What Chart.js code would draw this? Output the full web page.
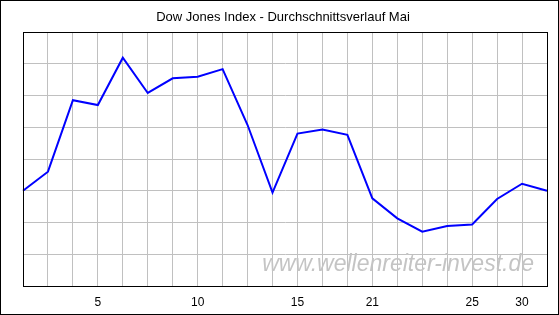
<!DOCTYPE html>
<html>
<head>
<meta charset="utf-8">
<script src="https://cdn.jsdelivr.net/npm/chart.js@4"></script>
<style>
    html, body { margin: 0; padding: 0; background: #fff; }
    canvas { display: block; }
</style>
</head>
<body>
<canvas id="dow-may-chart" width="559" height="315"></canvas>
<script>
// trading days of May; only some carry a label
const days = ["", "", "", "5", "", "", "", "10", "", "", "", "15", "", "", "21", "", "", "", "25", "", "30", ""];
const avgCourse = [3.0, 3.6, 5.85, 5.7, 7.19, 6.08, 6.54, 6.59, 6.83, 5.07, 2.94,
    4.8, 4.93, 4.76, 2.76, 2.13, 1.71, 1.89, 1.94, 2.74, 3.22, 3.0];
const yMin = 0;
const yMax = 8;
const chartTitle = "Dow Jones Index - Durchschnittsverlauf Mai";
const watermark = "www.wellenreiter-invest.de";

const frame = {
    id: "frame",
    beforeDatasetsDraw(chart) {
        const { ctx, chartArea: a } = chart;
        ctx.save();
        ctx.font = "italic 23px 'Liberation Sans', Arial, sans-serif";
        ctx.fillStyle = "#c4c4c4";
        ctx.textAlign = "right";
        ctx.textBaseline = "alphabetic";
        ctx.fillText(watermark, a.right - 13, a.bottom - 15);
        ctx.restore();
    },
    afterDraw(chart) {
        const { ctx, chartArea: a, width, height } = chart;
        ctx.save();
        ctx.strokeStyle = "#000";
        ctx.lineWidth = 1;
        ctx.strokeRect(Math.round(a.left) + 0.5, Math.round(a.top) + 0.5,
            Math.round(a.right - a.left), Math.round(a.bottom - a.top));
        ctx.strokeRect(0.5, 0.5, width - 1, height - 1);
        ctx.font = "13px 'Liberation Sans', Arial, sans-serif";
        ctx.fillStyle = "#000";
        ctx.textAlign = "center";
        ctx.textBaseline = "middle";
        ctx.fillText(chartTitle, 283, 17);
        ctx.restore();
    },
};

new Chart(document.getElementById("dow-may-chart"), {
    type: "line",
    data: {
        labels: days,
        datasets: [
            {
                data: avgCourse,
                borderColor: "#0000ff",
                borderWidth: 2,
                tension: 0,
                pointRadius: 0,
                fill: false,
            },
        ],
    },
    options: {
        responsive: false,
        animation: false,
        devicePixelRatio: 1,
        layout: { padding: { left: 23, right: 12, top: 32, bottom: 0 } },
        plugins: {
            legend: { display: false },
            title: { display: false },
            tooltip: { enabled: false },
        },
        scales: {
            x: {
                offset: false,
                grid: { color: "#c0c0c0", drawTicks: false },
                border: { color: "#000" },
                ticks: {
                    autoSkip: false,
                    maxRotation: 0,
                    padding: 9,
                    color: "#000",
                    font: { family: "'Liberation Sans', Arial, sans-serif", size: 12 },
                },
                afterFit(scale) {
                    scale.height = 29;
                },
            },
            y: {
                min: yMin,
                max: yMax,
                grid: { color: "#c0c0c0", drawTicks: false },
                border: { color: "#000" },
                ticks: { display: false, stepSize: 1 },
                afterFit(scale) {
                    scale.width = 0;
                },
            },
        },
    },
    plugins: [frame],
});
</script>
</body>
</html>
